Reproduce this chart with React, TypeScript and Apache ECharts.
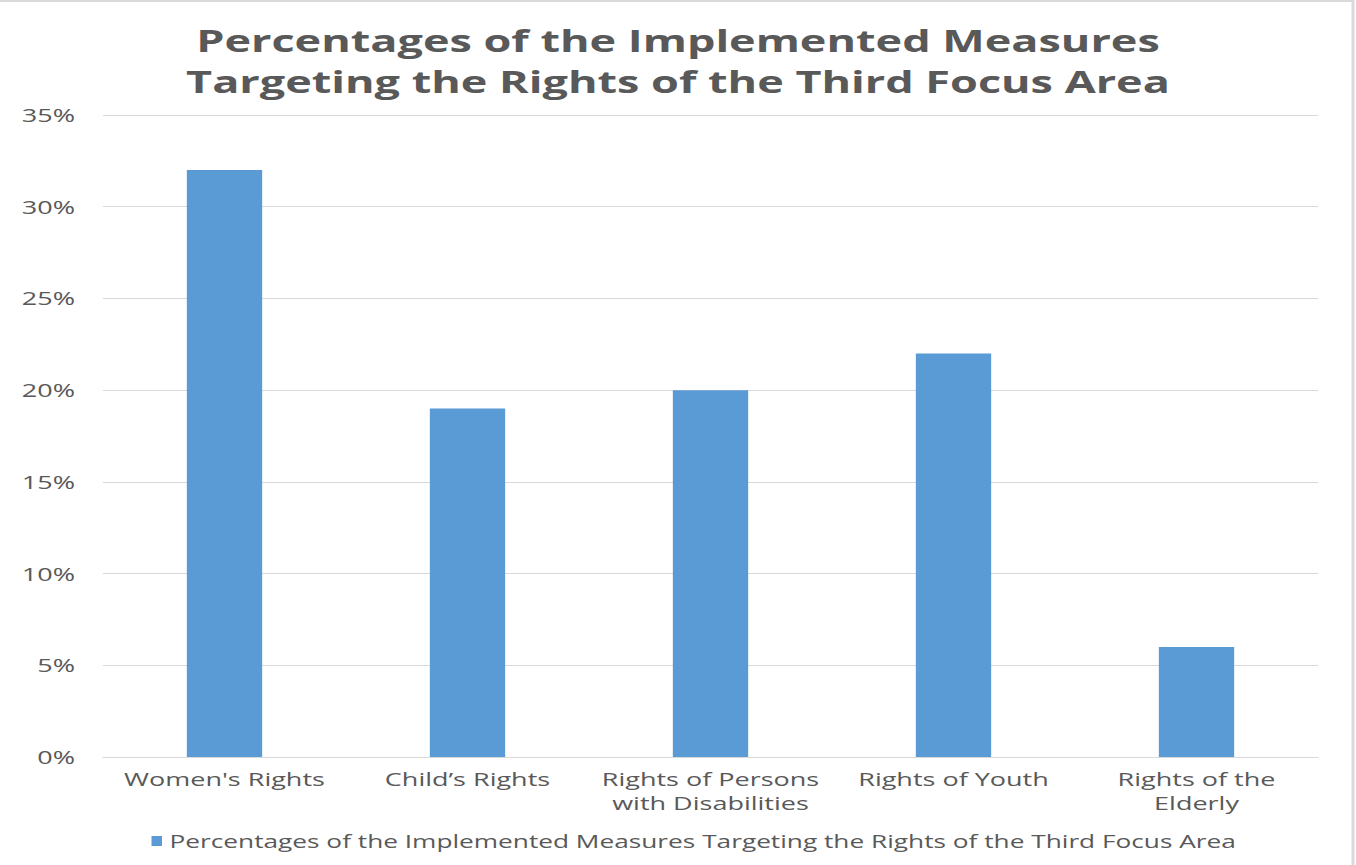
import React, { useEffect, useRef } from "react";
import * as echarts from "echarts";

const categories: string[] = [
  "Women's Rights",
  "Child\u2019s Rights",
  "Rights of Persons\nwith Disabilities",
  "Rights of Youth",
  "Rights of the\nElderly",
];
const values: number[] = [32, 19, 20, 22, 6];
const seriesName =
  "Percentages of the Implemented Measures Targeting the Rights of the Third Focus Area";
const titleText =
  "Percentages of the Implemented Measures\nTargeting the Rights of the Third Focus Area";

// The reference picture is stretched horizontally; render narrower and stretch.
const S = 1.5;
const PAGE_W = 1356;
const PAGE_H = 865;
const W = PAGE_W / S;

export default function App() {
  const ref = useRef<HTMLDivElement>(null);
  useEffect(() => {
    document.body.style.margin = "0";
    document.body.style.overflow = "hidden";
    if (!ref.current) return;
    const chart = echarts.init(ref.current, undefined, { renderer: "svg" });
    const font = "'Open Sans', sans-serif";
    chart.setOption({
      animation: false,
      backgroundColor: "#ffffff",
      title: {
        text: titleText,
        left: "center",
        top: 15,
        textStyle: {
          fontFamily: font,
          fontSize: 30,
          fontWeight: "bold",
          color: "#595959",
          lineHeight: 41,
        },
      },
      graphic: [
        {
          type: "rect",
          shape: { x: -10, y: 1, width: 1353 / S + 10, height: PAGE_H + 20 },
          style: { fill: "none", stroke: "#d9d9d9", lineWidth: 2 },
          silent: true,
        },
      ],
      grid: {
        left: 103 / S,
        right: (PAGE_W - 1318) / S,
        top: 115,
        bottom: PAGE_H - 757,
        containLabel: false,
      },
      legend: {
        data: [seriesName],
        left: 144 / S,
        top: 827,
        icon: "rect",
        itemWidth: 7,
        itemHeight: 10,
        itemGap: 4,
        textStyle: { fontFamily: font, fontSize: 17.5, color: "#595959" },
      },
      xAxis: {
        type: "category",
        data: categories,
        axisLine: { lineStyle: { color: "#d9d9d9", width: 1 } },
        axisTick: { show: false },
        axisLabel: {
          interval: 0,
          margin: 10,
          fontFamily: font,
          fontSize: 18,
          lineHeight: 24,
          color: "#595959",
        },
      },
      yAxis: {
        type: "value",
        min: 0,
        max: 35,
        interval: 5,
        axisLine: { show: false },
        axisTick: { show: false },
        axisLabel: {
          formatter: "{value}%",
          margin: 28 / S,
          fontFamily: font,
          fontSize: 18,
          color: "#595959",
        },
        splitLine: { lineStyle: { color: "#d9d9d9", width: 1 } },
      },
      series: [
        {
          name: seriesName,
          type: "bar",
          data: values,
          barWidth: "31%",
          itemStyle: { color: "#5B9BD5" },
        },
      ],
    });
    return () => chart.dispose();
  }, []);
  return (
    <div
      ref={ref}
      style={{
        width: W,
        height: PAGE_H,
        transform: `scaleX(${S})`,
        transformOrigin: "0 0",
      }}
    />
  );
}
